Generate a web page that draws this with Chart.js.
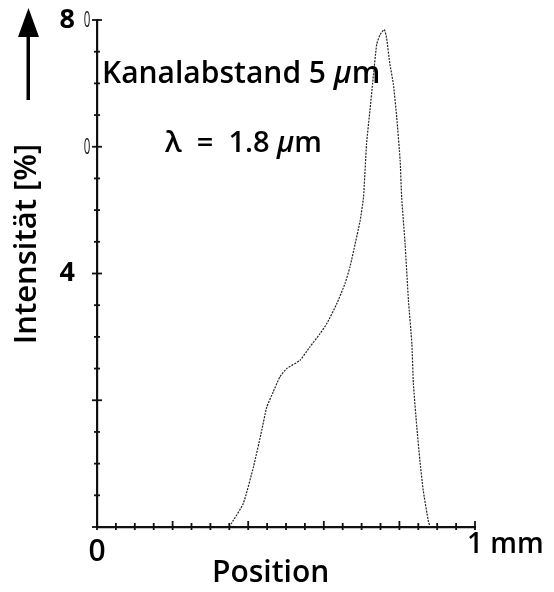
<!DOCTYPE html>
<html>
<head>
<meta charset="utf-8">
<script src="https://cdn.jsdelivr.net/npm/chart.js@4/dist/chart.umd.min.js"></script>
<style>
  html, body { margin: 0; padding: 0; background: #fff; }
  #wrap { width: 554px; height: 592px; position: relative; }
</style>
</head>
<body>
<div id="wrap"><canvas id="profile"></canvas></div>
<script>
// intensity profile across the channel, position in mm, intensity in %
const positions = [0.350, 0.356, 0.387, 0.414, 0.436, 0.449, 0.466, 0.484, 0.502, 0.537,
  0.563, 0.590, 0.608, 0.634, 0.656, 0.669, 0.683, 0.696, 0.705, 0.713,
  0.722, 0.729, 0.740, 0.749, 0.760, 0.766, 0.775, 0.784, 0.793, 0.802,
  0.806, 0.815, 0.824, 0.833, 0.837, 0.846, 0.854, 0.863, 0.876, 0.881];
const intensities = [0.0, 0.6, 3.7, 9.5, 15.3, 18.9, 21.3, 23.7, 25.0, 26.3,
  28.4, 30.5, 32.1, 35.2, 38.4, 41.0, 44.7, 48.3, 52.0, 60.4,
  65.7, 69.9, 76.2, 77.7, 78.5, 77.2, 73.0, 69.9, 64.6, 57.8,
  52.0, 44.7, 35.7, 28.9, 22.6, 15.8, 10.6, 5.8, 1.1, 0.0];

// tick labels as printed on the axes
const yTickLabels = { 80: '8', 40: '4' };
const yFaintZeros = [80, 60];
const xTickLabels = { 0: '0', 1: '1 mm' };

const FONT = '"Open Sans", sans-serif';
const W = '600 ';

// draws a run of text pieces, some in italic, from a left edge
function drawRun(ctx, pieces, x, y, size) {
  pieces.forEach(([txt, italic]) => {
    ctx.font = (italic ? 'italic ' : '') + W + size + 'px ' + FONT;
    ctx.fillText(txt, x, y);
    x += ctx.measureText(txt).width;
  });
}

const axisDecor = {
  id: 'axisDecor',
  afterDraw(chart) {
    const ctx = chart.ctx;
    const xs = chart.scales.x, ys = chart.scales.y;
    const x0 = xs.getPixelForValue(0), y0 = ys.getPixelForValue(0);
    ctx.save();
    ctx.strokeStyle = '#111';
    ctx.lineWidth = 1.8;
    // tick marks crossing the axes
    for (let v = 0; v <= 80.001; v += 5) {
      const py = ys.getPixelForValue(v);
      const half = (Math.round(v) % 20 === 0) ? 5 : 3;
      ctx.beginPath(); ctx.moveTo(x0 - half, py); ctx.lineTo(x0 + half, py); ctx.stroke();
    }
    for (let i = 0; i <= 20; i++) {
      const px = xs.getPixelForValue(i * 0.05);
      const up = (i % 4 === 0) ? 6 : 4;
      ctx.beginPath(); ctx.moveTo(px, y0 + 3); ctx.lineTo(px, y0 - up); ctx.stroke();
    }
    // faint zeros next to the y ticks
    ctx.fillStyle = '#111';
    ctx.textAlign = 'center';
    ctx.textBaseline = 'middle';
    yFaintZeros.forEach(v => {
      const py = ys.getPixelForValue(v);
      ctx.save();
      ctx.translate(x0 - 10, py + 1);
      ctx.scale(0.55, 1);
      ctx.font = '400 21px ' + FONT;
      ctx.fillText('0', 0, 0);
      ctx.restore();
    });
    // x tick labels
    ctx.fillStyle = '#000';
    ctx.font = W + '30px ' + FONT;
    ctx.textAlign = 'center';
    ctx.fillText(xTickLabels[0], x0, 552);
    ctx.textAlign = 'left';
    ctx.font = W + '28px ' + FONT;
    ctx.fillText(xTickLabels[1], xs.getPixelForValue(1) - 8, 545);
    // x title
    ctx.font = W + '30px ' + FONT;
    ctx.fillText('Position', 212, 573);
    // y title with arrow
    ctx.save();
    ctx.translate(27, 244);
    ctx.rotate(-Math.PI / 2);
    ctx.textAlign = 'center';
    ctx.font = W + '31px ' + FONT;
    ctx.fillText('Intensität [%]', 0, 0);
    ctx.restore();
    ctx.fillStyle = '#000';
    ctx.fillRect(26.5, 34, 3.5, 66);
    ctx.beginPath();
    ctx.moveTo(28.5, 8); ctx.lineTo(39, 37); ctx.lineTo(18, 37); ctx.closePath(); ctx.fill();
    // annotations
    ctx.textAlign = 'left';
    ctx.textBaseline = 'alphabetic';
    drawRun(ctx, [['Kanalabstand 5 ', false], ['\u03BC', true], ['m', false]], 102, 83, 30);
    drawRun(ctx, [['\u03BB  =  1.8 ', false], ['\u03BC', true], ['m', false]], 165, 152, 29);
    ctx.restore();
  }
};

new Chart(document.getElementById('profile'), {
  type: 'line',
  data: {
    datasets: [{
      data: positions.map((p, i) => ({ x: p, y: intensities[i] })),
      borderColor: '#222',
      borderWidth: 1.2,
      borderDash: [2, 1.2],
      pointRadius: 0,
      tension: 0.15,
      fill: false
    }]
  },
  options: {
    responsive: true,
    maintainAspectRatio: false,
    animation: false,
    layout: { padding: { left: 0, right: 79, top: 20, bottom: 0 } },
    plugins: { legend: { display: false }, tooltip: { enabled: false } },
    scales: {
      x: {
        type: 'linear', min: 0, max: 1,
        grid: { display: false, drawTicks: false },
        border: { display: true, color: '#111', width: 2.2 },
        ticks: { display: false },
        afterFit: (s) => { s.height = 65; s.paddingLeft = 0; s.paddingRight = 0; }
      },
      y: {
        min: 0, max: 80,
        grid: { display: false, drawTicks: false },
        border: { display: true, color: '#111', width: 2.2 },
        ticks: {
          stepSize: 20,
          padding: 22,
          color: '#000',
          font: { family: FONT, size: 27, weight: 'bold' },
          callback: (v) => yTickLabels[v] || ''
        },
        afterFit: (s) => { s.width = 97; s.paddingTop = 0; s.paddingBottom = 0; }
      }
    }
  },
  plugins: [axisDecor]
});
</script>
</body>
</html>
